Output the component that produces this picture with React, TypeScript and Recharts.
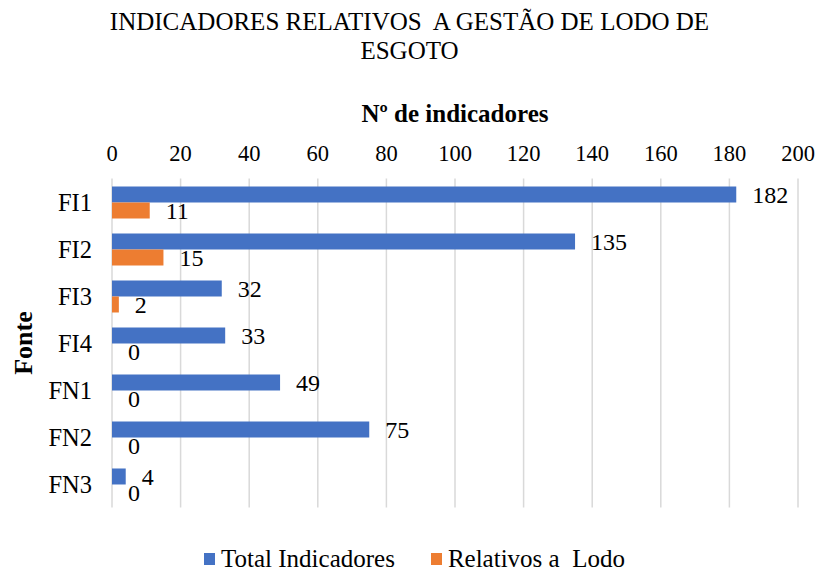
import React from 'react';
import { BarChart, Bar, XAxis, YAxis, CartesianGrid, LabelList, Legend, Label } from 'recharts';

const categories = ['FI1', 'FI2', 'FI3', 'FI4', 'FN1', 'FN2', 'FN3'];
const totalIndicadores = [182, 135, 32, 33, 49, 75, 4];
const relativosLodo = [11, 15, 2, 0, 0, 0, 0];
const xTicks = [0, 20, 40, 60, 80, 100, 120, 140, 160, 180, 200];

const data = categories.map((name, i) => ({
  name,
  total: totalIndicadores[i],
  lodo: relativosLodo[i],
}));

const FONT = '"Liberation Serif", "Times New Roman", serif';
const BLUE = '#4472C4';
const ORANGE = '#ED7D31';

const renderLegend = () => (
  <div style={{ display: 'flex', justifyContent: 'center', alignItems: 'center', height: 28, lineHeight: '28px', paddingLeft: 10, fontFamily: FONT, fontSize: 25, color: '#000', overflow: 'visible' }}>
    <span style={{ display: 'inline-block', width: 11, height: 12, background: BLUE, marginRight: 6 }} />
    <span style={{ marginRight: 36 }}>Total Indicadores</span>
    <span style={{ display: 'inline-block', width: 11, height: 12, background: ORANGE, marginRight: 6 }} />
    <span style={{ whiteSpace: 'pre' }}>Relativos a  Lodo</span>
  </div>
);

export default function App() {
  return (
    <div style={{ position: 'absolute', left: 0, top: 0, width: 819, height: 573, background: '#fff' }}>
      <div style={{ position: 'absolute', left: 0, top: 7, width: 819, textAlign: 'center', fontFamily: FONT, fontSize: 25, lineHeight: '29px', color: '#000', whiteSpace: 'pre' }}>
        {'INDICADORES RELATIVOS  A GESTÃO DE LODO DE\nESGOTO'}
      </div>
      <BarChart
        width={819}
        height={573}
        data={data}
        layout="vertical"
        margin={{ top: 104, right: 21, bottom: 37.5, left: 0 }}
        barCategoryGap="17%"
        barGap={0}
      >
        <CartesianGrid horizontal={false} stroke="#d9d9d9" strokeWidth={1.5} />
        <XAxis
          type="number"
          orientation="top"
          domain={[0, 200]}
          ticks={xTicks}
          axisLine={false}
          tickLine={false}
          tickSize={6}
          tickMargin={12}
          height={74.5}
          tick={{ fontFamily: FONT, fontSize: 22.5, fill: '#000' }}
        >
          <Label value="Nº de indicadores" position="insideTop" offset={0} style={{ fontFamily: FONT, fontSize: 25, fontWeight: 'bold', fill: '#000' }} />
        </XAxis>
        <YAxis
          type="category"
          dataKey="name"
          width={112}
          axisLine={false}
          tickLine={false}
          tickSize={6}
          tickMargin={14}
          tick={{ fontFamily: FONT, fontSize: 24.5, fill: '#000' }}
        >
          <Label value="Fonte" angle={-90} position="center" dx={-33} style={{ fontFamily: FONT, fontSize: 26, fontWeight: 'bold', fill: '#000' }} />
        </YAxis>
        <Legend verticalAlign="bottom" content={renderLegend} wrapperStyle={{ bottom: 0, left: 0, width: 819 }} />
        <Bar dataKey="total" name="Total Indicadores" fill={BLUE} isAnimationActive={false}>
          <LabelList dataKey="total" position="right" offset={16} style={{ fontFamily: FONT, fontSize: 24, fill: '#000' }} />
        </Bar>
        <Bar dataKey="lodo" name="Relativos a  Lodo" fill={ORANGE} minPointSize={0.01} isAnimationActive={false}>
          <LabelList dataKey="lodo" position="right" offset={16} style={{ fontFamily: FONT, fontSize: 24, fill: '#000' }} />
        </Bar>
      </BarChart>
    </div>
  );
}
